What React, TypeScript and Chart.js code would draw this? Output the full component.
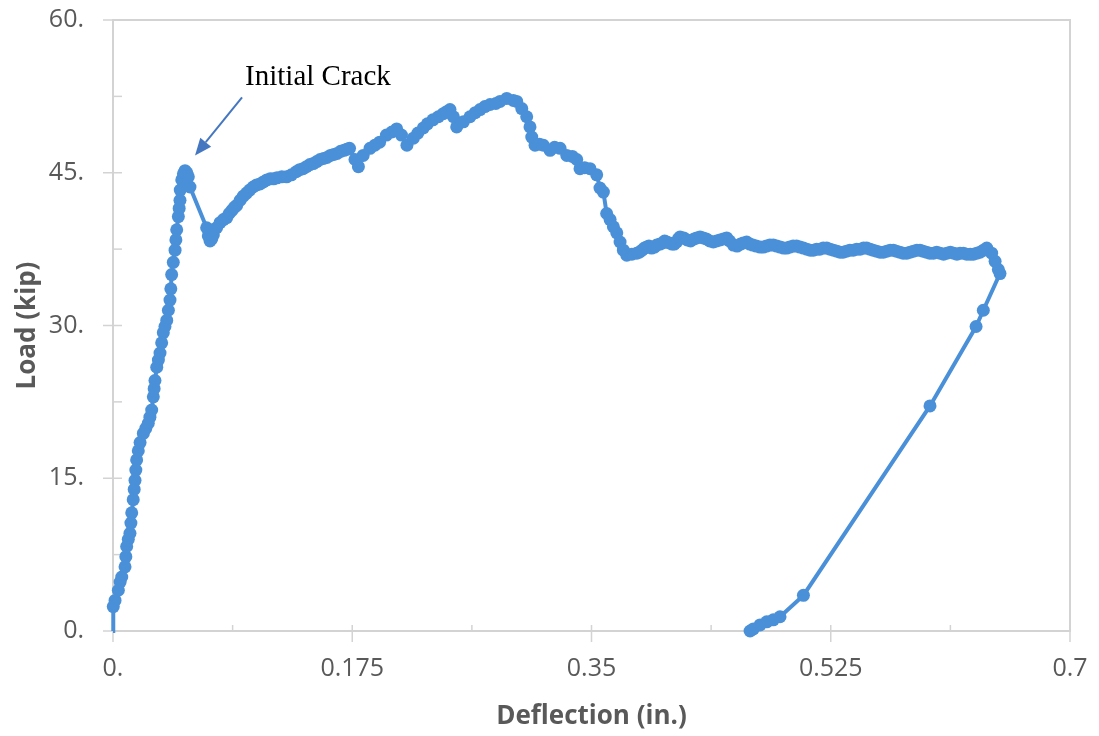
import React, { useEffect, useRef } from "react";
import { Chart, registerables } from "chart.js";

Chart.register(...registerables);

// Loading branch up to the initial crack: deflection (in.) / load (kip)
const loadingDefl: number[] = [
  0, 0.0002, 0.0015, 0.0039, 0.0052, 0.0064, 0.0088, 0.0094, 0.01, 0.0112,
  0.0124, 0.0131, 0.0137, 0.0148, 0.0155, 0.0161, 0.0167, 0.0173, 0.0185, 0.0198,
  0.0222, 0.024, 0.0258, 0.027, 0.0283, 0.0295, 0.0301, 0.0307, 0.032, 0.0332,
  0.0344, 0.0356, 0.0368, 0.038, 0.0393, 0.0405, 0.0417, 0.0423, 0.0429, 0.0441,
  0.0454, 0.046, 0.0466, 0.0478, 0.0484, 0.049, 0.0492, 0.0503, 0.0515, 0.0527,
  0.054, 0.0551, 0.0563,
];
const loadingLoad: number[] = [
  0, 2.4, 3.0, 4.0, 4.8, 5.3, 6.3, 7.3, 8.3, 9.0,
  9.6, 10.6, 11.6, 12.9, 13.9, 14.8, 15.8, 16.8, 17.7, 18.5,
  19.4, 19.9, 20.4, 21.0, 21.7, 23.0, 23.8, 24.6, 25.9, 26.6,
  27.3, 28.3, 29.3, 29.9, 30.5, 31.5, 32.5, 33.6, 35.0, 36.2,
  37.4, 38.4, 39.4, 40.7, 41.5, 42.3, 43.3, 44.3, 44.9, 45.2,
  45.0, 44.6, 43.6,
];

// Post-crack hardening
const postCrackDefl: number[] = [
  0.0685, 0.0697, 0.071, 0.0722, 0.0734, 0.0758, 0.0783, 0.0808, 0.0832, 0.085,
  0.087, 0.0888, 0.0905, 0.093, 0.0953, 0.0977, 0.1, 0.1025, 0.105, 0.1075,
  0.11, 0.1125, 0.115, 0.1175, 0.12, 0.1235, 0.127, 0.1305, 0.134, 0.1365,
  0.139, 0.1415, 0.144, 0.1465, 0.149, 0.1515, 0.154, 0.1565, 0.159, 0.1615,
  0.164, 0.1665, 0.169, 0.171, 0.173, 0.177, 0.1795, 0.183, 0.188, 0.1915,
];
const postCrackLoad: number[] = [
  39.6, 38.8, 38.3, 38.5, 38.9, 39.6, 40.1, 40.4, 40.6, 41.0,
  41.3, 41.6, 41.8, 42.3, 42.7, 43.0, 43.3, 43.6, 43.8, 43.9,
  44.1, 44.3, 44.4, 44.4, 44.5, 44.6, 44.6, 44.8, 45.1, 45.3,
  45.4, 45.6, 45.8, 45.9, 46.1, 46.3, 46.4, 46.5, 46.7, 46.8,
  46.9, 47.1, 47.2, 47.3, 47.4, 46.3, 45.6, 46.7, 47.4, 47.7,
];

// Peak and post-peak drop
const peakDefl: number[] = [
  0.195, 0.2, 0.204, 0.2075, 0.211, 0.215, 0.2197, 0.223, 0.227, 0.23,
  0.234, 0.238, 0.2416, 0.244, 0.2465, 0.249, 0.2514, 0.2563, 0.2611, 0.265,
  0.2685, 0.272, 0.2758, 0.28, 0.2831, 0.288, 0.2928, 0.2953, 0.299, 0.3026,
  0.305, 0.3063, 0.3087, 0.312, 0.3148, 0.3197, 0.323, 0.327, 0.3319, 0.336,
  0.3392, 0.3416, 0.345, 0.3489, 0.3538, 0.3562, 0.3587, 0.3611, 0.3636, 0.366,
  0.3685, 0.3709, 0.3733, 0.3758,
];
const peakLoad: number[] = [
  48.0, 48.7, 49.0, 49.3, 48.7, 47.7, 48.4, 48.9, 49.4, 49.8,
  50.2, 50.5, 50.8, 51.0, 51.2, 50.5, 49.5, 50.0, 50.5, 50.9,
  51.2, 51.5, 51.7, 51.8, 52.0, 52.3, 52.1, 52.0, 51.3, 50.5,
  49.5, 48.5, 47.7, 47.8, 47.7, 47.2, 47.5, 47.4, 46.7, 46.6,
  46.3, 45.4, 45.5, 45.4, 44.8, 43.5, 43.1, 41.0, 40.4, 39.7,
  39.1, 38.2, 37.4, 36.9,
];

// Residual plateau
const plateauDefl: number[] = [
  0.3795, 0.3831, 0.385, 0.387, 0.3887, 0.3904, 0.392, 0.394, 0.396, 0.3977,
  0.4, 0.402, 0.4035, 0.405, 0.407, 0.409, 0.4105, 0.4123, 0.4135, 0.4148,
  0.4175, 0.42, 0.4225, 0.425, 0.427, 0.4294, 0.4317, 0.434, 0.4365, 0.4391,
  0.4415, 0.444, 0.4465, 0.4489, 0.451, 0.4538, 0.4565, 0.459, 0.461, 0.4635,
  0.4658, 0.468, 0.4705, 0.4733, 0.4757, 0.478, 0.4805, 0.483, 0.4855, 0.488,
  0.4905, 0.4928, 0.495, 0.4975, 0.5, 0.5025, 0.505, 0.5075, 0.51, 0.5123,
  0.5147, 0.517, 0.5195, 0.5221, 0.5245, 0.527, 0.5295, 0.5318, 0.534, 0.5365,
  0.539, 0.5415, 0.544, 0.5465, 0.549, 0.5513, 0.5537, 0.556, 0.5585, 0.5611,
  0.5635, 0.566, 0.5685, 0.5708, 0.573, 0.5755, 0.578, 0.5806, 0.583, 0.5855,
  0.588, 0.5903, 0.5925, 0.595, 0.5975, 0.6001, 0.6025, 0.605, 0.6075, 0.6099,
  0.6125, 0.615, 0.6173, 0.6196, 0.622, 0.6245, 0.627, 0.6293, 0.6318, 0.6342,
  0.6367, 0.6391, 0.6427, 0.6452, 0.6476, 0.6488,
];
const plateauLoad: number[] = [
  37.0, 37.1, 37.2, 37.4, 37.6, 37.7, 37.8, 37.6, 37.7, 37.9,
  38.0, 38.1, 38.3, 38.2, 38.1, 38.0, 38.0, 38.2, 38.5, 38.7,
  38.6, 38.4, 38.3, 38.5, 38.6, 38.7, 38.6, 38.5, 38.3, 38.2,
  38.3, 38.4, 38.5, 38.6, 38.3, 37.9, 37.8, 38.0, 38.1, 38.2,
  38.0, 37.9, 37.8, 37.7, 37.7, 37.8, 37.9, 37.9, 37.8, 37.7,
  37.6, 37.6, 37.7, 37.8, 37.8, 37.7, 37.6, 37.5, 37.4, 37.4,
  37.5, 37.5, 37.6, 37.6, 37.5, 37.4, 37.3, 37.2, 37.2, 37.3,
  37.4, 37.4, 37.5, 37.5, 37.6, 37.6, 37.5, 37.4, 37.3, 37.2,
  37.2, 37.3, 37.4, 37.4, 37.3, 37.2, 37.1, 37.1, 37.2, 37.3,
  37.4, 37.4, 37.3, 37.2, 37.1, 37.1, 37.2, 37.1, 37.0, 37.1,
  37.2, 37.1, 37.0, 37.1, 37.1, 37.0, 37.0, 37.0, 37.1, 37.2,
  37.4, 37.6, 37.1, 36.3, 35.5, 35.1,
];

// Unloading branch
const unloadDefl: number[] = [0.6366, 0.6313, 0.5976, 0.505, 0.4879, 0.483, 0.4782, 0.4733, 0.4684, 0.466];
const unloadLoad: number[] = [31.5, 29.9, 22.1, 3.5, 1.4, 1.1, 0.9, 0.6, 0.2, 0.0];

const deflection: number[] = [...loadingDefl, ...postCrackDefl, ...peakDefl, ...plateauDefl, ...unloadDefl];
const load: number[] = [...loadingLoad, ...postCrackLoad, ...peakLoad, ...plateauLoad, ...unloadLoad];

const xTickValues: number[] = [0, 0.175, 0.35, 0.525, 0.7];
const xTickLabels: string[] = ["0.", "0.175", "0.35", "0.525", "0.7"];
const yTickValues: number[] = [0, 15, 30, 45, 60];
const yTickLabels: string[] = ["0.", "15.", "30.", "45.", "60."];

const annotationText = "Initial Crack";
const annotationTextAt = { x: 0.0966, y: 53.6 };
const arrowFrom = { x: 0.0944, y: 52.4 };
const arrowTo = { x: 0.06, y: 46.7 };

const SERIES_COLOR = "#4a90d9";
const AXIS_COLOR = "#d3d3d3";
const TEXT_COLOR = "#595959";
const FONT = "'Open Sans', 'Noto Sans', sans-serif";

const framePlugin = {
  id: "frame",
  beforeDatasetsDraw(chart: any) {
    const { ctx, chartArea: a, scales } = chart;
    const xs = scales.x;
    const ys = scales.y;
    const line = (x1: number, y1: number, x2: number, y2: number) => {
      ctx.beginPath();
      ctx.moveTo(x1, y1);
      ctx.lineTo(x2, y2);
      ctx.stroke();
    };
    ctx.save();
    ctx.strokeStyle = AXIS_COLOR;
    ctx.lineWidth = 2;
    ctx.strokeRect(a.left, a.top, a.right - a.left, a.bottom - a.top);
    ctx.lineWidth = 1.5;
    yTickValues.forEach((v, i) => {
      const py = ys.getPixelForValue(v);
      line(a.left - 10, py, a.left + 9, py);
      if (i < yTickValues.length - 1) {
        const m = ys.getPixelForValue((v + yTickValues[i + 1]) / 2);
        line(a.left, m, a.left + 9, m);
      }
    });
    xTickValues.forEach((v, i) => {
      const px = xs.getPixelForValue(v);
      line(px, a.bottom - 6, px, a.bottom + 11);
      if (i < xTickValues.length - 1) {
        const m = xs.getPixelForValue((v + xTickValues[i + 1]) / 2);
        line(m, a.bottom - 6, m, a.bottom);
      }
    });
    ctx.restore();
  },
};

const annotationPlugin = {
  id: "crackNote",
  afterDatasetsDraw(chart: any) {
    const { ctx, scales } = chart;
    const xs = scales.x;
    const ys = scales.y;
    ctx.save();
    ctx.fillStyle = "#000000";
    ctx.font = "29px 'Liberation Serif', 'Times New Roman', serif";
    ctx.textAlign = "left";
    ctx.textBaseline = "alphabetic";
    ctx.fillText(
      annotationText,
      xs.getPixelForValue(annotationTextAt.x),
      ys.getPixelForValue(annotationTextAt.y)
    );
    const x1 = xs.getPixelForValue(arrowFrom.x);
    const y1 = ys.getPixelForValue(arrowFrom.y);
    const x2 = xs.getPixelForValue(arrowTo.x);
    const y2 = ys.getPixelForValue(arrowTo.y);
    const ang = Math.atan2(y2 - y1, x2 - x1);
    const headLen = 17;
    const headHalf = 7;
    const bx = x2 - headLen * Math.cos(ang);
    const by = y2 - headLen * Math.sin(ang);
    ctx.strokeStyle = "#4577c0";
    ctx.fillStyle = "#4577c0";
    ctx.lineWidth = 2;
    ctx.beginPath();
    ctx.moveTo(x1, y1);
    ctx.lineTo(bx, by);
    ctx.stroke();
    ctx.beginPath();
    ctx.moveTo(x2, y2);
    ctx.lineTo(bx + headHalf * Math.sin(ang), by - headHalf * Math.cos(ang));
    ctx.lineTo(bx - headHalf * Math.sin(ang), by + headHalf * Math.cos(ang));
    ctx.closePath();
    ctx.fill();
    ctx.restore();
  },
};

export default function App() {
  const canvasRef = useRef<HTMLCanvasElement | null>(null);

  useEffect(() => {
    document.body.style.margin = "0";
    const canvas = canvasRef.current;
    if (!canvas) return;
    const points = deflection.map((d, i) => ({ x: d, y: load[i] }));
    const chart = new Chart(canvas, {
      type: "scatter",
      data: {
        datasets: [
          {
            label: "Load",
            data: points,
            showLine: true,
            borderColor: SERIES_COLOR,
            borderWidth: 4,
            backgroundColor: SERIES_COLOR,
            pointBackgroundColor: SERIES_COLOR,
            pointBorderWidth: 0,
            pointRadius: (c: any) => (c.dataIndex === 0 ? 0 : 6.5),
            pointHoverRadius: 6.5,
            tension: 0,
            clip: false as any,
          },
        ],
      },
      options: {
        animation: false,
        responsive: false,
        events: [],
        layout: { padding: { left: 0, right: 29, top: 20, bottom: 0 } },
        plugins: {
          legend: { display: false },
          tooltip: { enabled: false },
          title: { display: false },
        },
        scales: {
          x: {
            type: "linear",
            min: 0,
            max: 0.7,
            afterBuildTicks: (s: any) => {
              s.ticks = xTickValues.map((v) => ({ value: v }));
            },
            afterFit: (s: any) => {
              s.height = 105;
              s.paddingLeft = 0;
              s.paddingRight = 0;
            },
            grid: { display: false, drawTicks: false },
            border: { display: false },
            ticks: {
              autoSkip: false,
              maxRotation: 0,
              padding: 23,
              color: TEXT_COLOR,
              font: { family: FONT, size: 25 },
              callback: (_v: any, i: number) => xTickLabels[i],
            },
            title: {
              display: true,
              text: "Deflection (in.)",
              color: TEXT_COLOR,
              font: { family: FONT, size: 26, weight: "bold" },
              padding: { top: 0, bottom: 4 },
            },
          },
          y: {
            type: "linear",
            min: 0,
            max: 60,
            afterBuildTicks: (s: any) => {
              s.ticks = yTickValues.map((v) => ({ value: v }));
            },
            afterFit: (s: any) => {
              s.width = 113;
              s.paddingTop = 0;
              s.paddingBottom = 0;
            },
            grid: { display: false, drawTicks: false },
            border: { display: false },
            ticks: {
              autoSkip: false,
              padding: 29,
              color: TEXT_COLOR,
              font: { family: FONT, size: 25 },
              callback: (_v: any, i: number) => yTickLabels[i],
            },
            title: {
              display: true,
              text: "Load (kip)",
              color: TEXT_COLOR,
              font: { family: FONT, size: 26, weight: "bold" },
              padding: { top: 12, bottom: 0 },
            },
          },
        },
      },
      plugins: [framePlugin, annotationPlugin],
    });
    return () => chart.destroy();
  }, []);

  return (
    <div style={{ width: 1099, height: 736, background: "#ffffff" }}>
      <canvas ref={canvasRef} width={1099} height={736} style={{ display: "block" }} />
    </div>
  );
}
